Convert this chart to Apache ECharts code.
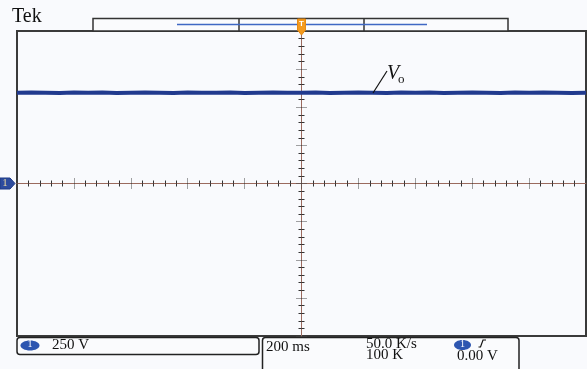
<!DOCTYPE html>
<html>
<head>
<meta charset="utf-8">
<script src="https://cdn.jsdelivr.net/npm/echarts@6/dist/echarts.min.js"></script>
<style>
html,body{margin:0;padding:0;background:#f9fafd;}
#c{width:587px;height:369px;}
</style>
</head>
<body>
<div id="c"></div>
<script>
// time in ms (screen centre = 0), 200 ms/div, 10 divisions
const timeMs = [-1000,-950,-900,-850,-800,-750,-700,-650,-600,-550,-500,-450,-400,-350,-300,-250,-200,-150,-100,-50,0,50,100,150,200,250,300,350,400,450,500,550,600,650,700,750,800,850,900,950,1000];
// output voltage Vo (V), 250 V/div
const voVolts = [595,596,595,594,596,595,596,594,595,596,595,594,596,595,595,596,594,595,596,595,595,596,594,595,596,595,594,596,595,596,594,595,596,595,594,596,595,596,595,594,595];
const xTicks = {min:-1000, max:1000, interval:200};
const yTicks = {min:-1000, max:1000, interval:250};

const chart = echarts.init(document.getElementById('c'), null, {renderer:'canvas'});
const axisLineStyle = {color:'#9a6a5e', width:1};
function xAx(pos){
  return {type:'value', position:pos, min:xTicks.min, max:xTicks.max, interval:xTicks.interval,
    axisLine:{show:true, onZero:true, lineStyle:axisLineStyle},
    axisTick:{show:true, length:5, lineStyle:{color:'#444', type:'dotted', width:1}},
    minorTick:{show:true, splitNumber:5, length:3, lineStyle:{color:'#333', width:1}},
    axisLabel:{show:false}, splitLine:{show:false}, minorSplitLine:{show:false}};
}
function yAx(pos){
  return {type:'value', position:pos, min:yTicks.min, max:yTicks.max, interval:yTicks.interval,
    axisLine:{show:true, onZero:true, lineStyle:axisLineStyle},
    axisTick:{show:true, length:5, lineStyle:{color:'#444', type:'dotted', width:1}},
    minorTick:{show:true, splitNumber:5, length:3, lineStyle:{color:'#333', width:1}},
    axisLabel:{show:false}, splitLine:{show:false}, minorSplitLine:{show:false}};
}
const serif = '"Liberation Serif","Times New Roman",serif';
const data = timeMs.map((t,i)=>[t, voVolts[i]]);

chart.setOption({
  backgroundColor:'#f9fafd',
  animation:false,
  grid:{left:17, right:1, top:31, bottom:33, show:true, borderColor:'#3a3a3a', borderWidth:2, backgroundColor:'#f9fafd'},
  xAxis:[xAx('bottom'), xAx('top')],
  yAxis:[yAx('left'), yAx('right')],
  series:[{type:'line', xAxisIndex:0, yAxisIndex:0, data:data, showSymbol:false, symbol:'none',
    lineStyle:{color:'#213a8e', width:4}, z:5}],
  graphic:[
    {type:'text', left:12, top:7, style:{text:'Tek', font:'20px '+serif, fill:'#111'}},
    // top record bar
    {type:'rect', shape:{x:93, y:18.5, width:415, height:12.5}, style:{fill:'#fafbfd', stroke:'#333', lineWidth:1.5}},
    {type:'line', shape:{x1:239, y1:18.5, x2:239, y2:31}, style:{stroke:'#333', lineWidth:1.5}},
    {type:'line', shape:{x1:364, y1:18.5, x2:364, y2:31}, style:{stroke:'#333', lineWidth:1.5}},
    {type:'line', shape:{x1:177, y1:24.5, x2:427, y2:24.5}, style:{stroke:'#3f68c4', lineWidth:1.5}},
    // trigger position marker
    {type:'polygon', shape:{points:[[297.5,19],[305.5,19],[305.5,30],[301.5,35],[297.5,30]]}, style:{fill:'#f39a1e', stroke:'#e88a10', lineWidth:1}, z:10},
    {type:'text', x:301.5, y:20, style:{text:'T', font:'bold 8px sans-serif', fill:'#fff', align:'center'}, z:11},
    // channel 1 ground marker
    {type:'polygon', shape:{points:[[0,178],[10,178],[15,183.5],[10,189],[0,189]]}, style:{fill:'#2d4c9e', stroke:'#1f3a86', lineWidth:1}, z:10},
    {type:'text', x:5, y:177.5, style:{text:'1', font:'11px '+serif, fill:'#e8d7a0', align:'center'}, z:11},
    // Vo annotation
    {type:'line', shape:{x1:373, y1:93, x2:387, y2:71}, style:{stroke:'#111', lineWidth:1.2}, z:10},
    {type:'text', x:387, y:64, style:{text:'V', font:'italic 20px '+serif, fill:'#111'}, z:10},
    {type:'text', x:398, y:73, style:{text:'o', font:'13px '+serif, fill:'#111'}, z:10},
    // bottom left box
    {type:'rect', shape:{x:17, y:337.5, width:242, height:17, r:3}, style:{fill:'#fafbfd', stroke:'#222', lineWidth:1.5}},
    {type:'ellipse', shape:{cx:30, cy:345.5, rx:9.5, ry:5}, style:{fill:'#2d56b0'}},
    {type:'text', x:30, y:339.5, style:{text:'1', font:'10px '+serif, fill:'#fff', align:'center'}},
    {type:'text', x:52, y:338, style:{text:'250 V', font:'15px '+serif, fill:'#111'}},
    // bottom right box
    {type:'rect', shape:{x:262.5, y:337.5, width:256.5, height:50, r:3}, style:{fill:'#fafbfd', stroke:'#222', lineWidth:1.5}},
    {type:'text', x:266, y:340, style:{text:'200 ms', font:'15px '+serif, fill:'#111'}},
    {type:'text', x:366, y:337, style:{text:'50.0 K/s', font:'15px '+serif, fill:'#111'}},
    {type:'text', x:366, y:348, style:{text:'100 K', font:'15px '+serif, fill:'#111'}},
    {type:'ellipse', shape:{cx:462.5, cy:345, rx:8.5, ry:5}, style:{fill:'#2d56b0'}},
    {type:'text', x:462.5, y:339, style:{text:'1', font:'10px '+serif, fill:'#fff', align:'center'}},
    {type:'polyline', shape:{points:[[478.5,347],[480.5,347],[483,340],[486,340]]}, style:{stroke:'#111', lineWidth:1.2, fill:null}},
    {type:'text', x:457, y:349, style:{text:'0.00 V', font:'15px '+serif, fill:'#111'}}
  ]
});
</script>
</body>
</html>
